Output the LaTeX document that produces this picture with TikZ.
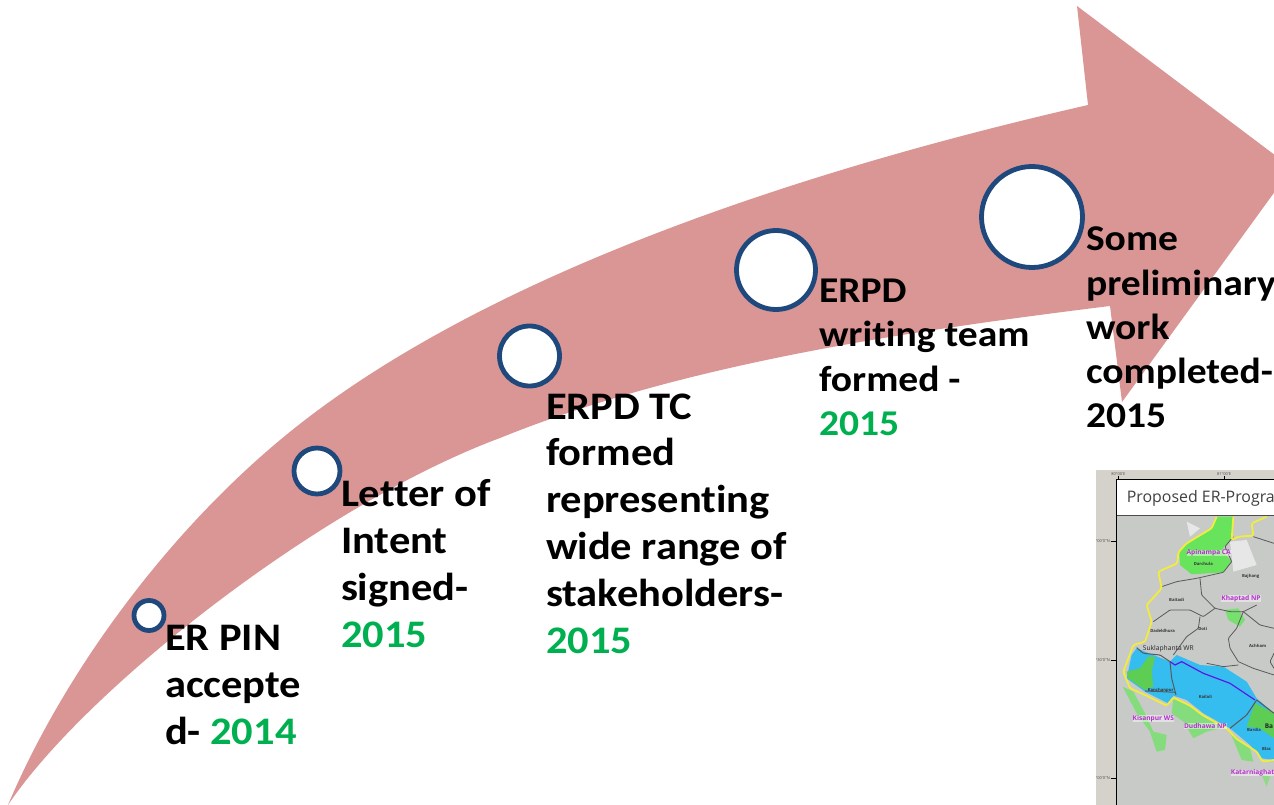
\documentclass[tikz,border=0pt]{standalone}
\usepackage{fontspec}
\setmainfont{Carlito}[FakeStretch=1.09,Ligatures=NoCommon]
\newfontfamily\mapfont{Open Sans}
\definecolor{arrowpink}{HTML}{D99694}
\definecolor{ringblue}{HTML}{1F497D}
\definecolor{yeargreen}{HTML}{00B050}
\definecolor{mapbg}{HTML}{C8CAC8}
\definecolor{mapframe}{HTML}{D5D2CB}
\definecolor{mapblue}{HTML}{36BDEF}
\definecolor{mapgreen}{HTML}{67E45C}
\definecolor{mapyellow}{HTML}{F2EC3C}
\definecolor{mappurple}{HTML}{B82FD0}
\tikzset{
  ring/.style={circle,draw=ringblue,line width=4.8pt,fill=white,inner sep=0pt,outer sep=0pt},
  tl/.style={anchor=north west,inner sep=0pt,outer sep=0pt,align=left,font=\fontsize{36.3pt}{44.2pt}\selectfont\bfseries,text=black},
  tlb/.style={anchor=north west,inner sep=0pt,outer sep=0pt,align=left,font=\fontsize{39pt}{46.9pt}\selectfont\bfseries,text=black},
  pa/.style={font=\mapfont\bfseries\fontsize{6.6pt}{8pt}\selectfont,text=mappurple,inner sep=0pt,fill=white,fill opacity=.45,text opacity=1},
  bl/.style={font=\mapfont\bfseries\fontsize{4.2pt}{6pt}\selectfont,text=black!80,inner sep=0pt},
  tk/.style={font=\mapfont\fontsize{4pt}{5pt}\selectfont,text=black!70,inner sep=0pt},
  dist/.style={draw=black!65,line width=.8pt,line join=round,rounded corners=1pt},
}
\begin{document}
\begin{tikzpicture}[x=1pt,y=-1pt]
\useasboundingbox (0,0) rectangle (1274,805);
\clip (0,0) rectangle (1274,805);
% arrow
\path[fill=arrowpink]
  (8,805) .. controls (65,670) and (175,520) .. (305,420)
  .. controls (480,285) and (760,180) .. (1088,105)
  -- (1077,6) -- (1292,168) -- (1122,402) -- (1110,306)
  .. controls (900,332) and (680,365) .. (500,438)
  .. controls (320,505) and (85,690) .. (8,805)
  -- cycle;
% map
\begin{scope}
\clip (1096,470) rectangle (1274,805);
\fill[mapframe] (1096,470) rectangle (1274,805);
\begin{scope}[shift={(1090,465)},x=0.3333pt,y=-0.3333pt]
  \fill[mapbg] (80,42) rectangle (560,1030);
  \fill[white,opacity=.55] (290,170) -- (330,190) -- (300,215) -- cycle
    (420,230) -- (470,225) -- (500,300) -- (430,320) -- cycle;
  % forest / green
  \fill[mapgreen] (380,155) -- (365,190) -- (290,235) -- (268,262) -- (270,300) -- (305,328) -- (400,322) -- (425,290) -- (395,255) -- (425,220) -- (430,155) -- cycle;
  \fill[mapgreen!80!mapbg] (405,435) -- (445,430) -- (465,465) -- (450,485) -- (415,465) -- cycle;
  \fill[mapgreen!70!mapbg] (98,665) -- (130,680) -- (165,745) -- (190,800) -- (230,810) -- (225,855) -- (200,860) -- (180,800) -- (140,745) -- cycle;
  \fill[mapgreen!70!mapbg] (250,700) -- (300,720) -- (340,750) -- (410,785) -- (350,800) -- (310,820) -- (280,770) -- (245,745) -- cycle;
  \fill[mapgreen!70!mapbg] (420,800) -- (480,850) -- (490,890) -- (455,885) -- cycle;
  \fill[mapgreen!60!mapbg] (515,930) -- (540,935) -- (530,965) -- cycle;
  % project area
  \fill[mapblue] (140,550) -- (240,590) -- (260,570) -- (330,600) -- (400,605) -- (470,650) -- (500,700) -- (552,745) -- (552,885) -- (515,880) -- (480,840) -- (420,790) -- (340,745) -- (290,705) -- (250,692) -- (235,715) -- (165,680) -- (110,640) -- (125,570) -- cycle;
  \fill[mapgreen!90!black] (195,575) -- (185,620) -- (190,665) -- (165,675) -- (115,640) -- (110,620) -- (150,610) -- (175,575) -- cycle;
  \fill[mapgreen!90!black] (495,715) -- (552,745) -- (552,820) -- (510,790) -- (470,785) -- cycle;
  % district lines
  \draw[dist] (215,365) -- (260,350) -- (320,340) -- (400,322) -- (425,290);
  \draw[dist] (430,215) -- (405,245) -- (425,290);
  \draw[dist] (490,215) -- (552,235);
  \draw[dist] (330,340) -- (335,390) -- (375,430) -- (420,440) -- (460,440) -- (500,420);
  \draw[dist] (375,430) -- (340,455) -- (300,435) -- (240,435) -- (190,470);
  \draw[dist] (330,455) -- (325,490) -- (290,515) -- (250,570);
  \draw[dist] (460,440) -- (440,490) -- (415,520) -- (420,550) -- (445,590);
  \draw[dist] (460,440) -- (510,480) -- (552,490);
  \draw[dist] (445,600) -- (400,605) -- (350,595);
  \draw[dist] (445,590) -- (490,610) -- (552,630);
  \draw[dist] (552,565) -- (540,590) -- (552,610);
  \draw[dist,line width=1pt] (240,590) -- (245,640) -- (258,690);
  \draw[dist,line width=1pt] (165,678) -- (258,682);
  \draw[dist,line width=1pt] (500,705) -- (470,750) -- (420,790);
  \draw[dist,line width=1pt] (500,705) -- (552,745);
  \draw[dist,line width=1pt] (140,548) -- (160,565) -- (210,570) -- (240,590);
  % programme boundary
  \draw[draw=mappurple!50!blue,line width=1.2pt,line join=round] (240,590) -- (255,600) -- (275,590) -- (340,625) -- (420,655) -- (495,705);
  \draw[draw=mapyellow,line width=1.8pt,line join=round,rounded corners=1.5pt] (530,155) -- (485,175) -- (490,212) -- (445,215) -- (425,225) -- (430,155)
    (380,155) -- (365,190) -- (290,235) -- (265,262) -- (262,295) -- (205,320) -- (215,370) -- (170,420) -- (185,470) -- (165,530) -- (130,540) -- (100,620) -- (120,670) -- (165,690) -- (230,722) -- (250,698) -- (300,722) -- (340,752) -- (410,790) -- (440,822) -- (500,860) -- (518,890) -- (552,885);
  % frame
  \fill[white] (80,42) rectangle (560,150);
  \draw[black,line width=.7pt] (80,42) -- (560,42) (80,1030) -- (80,42);
  \draw[black!70,line width=.7pt] (80,150) -- (560,150);
  \draw[black,line width=.5pt] (62,228) -- (80,228) (62,585) -- (80,585) (62,940) -- (80,940) (85,42) -- (85,34) (402,42) -- (402,34);
  % map texts
  \node[tk] (tka) at (85,28) {80°00'E};
  \node[tk] (tkb) at (402,28) {81°00'E};
  \node[tk,anchor=east] (tkc) at (60,228) {29°00'0"N};
  \node[tk,anchor=east] (tkd) at (60,585) {28°30'0"N};
  \node[tk,anchor=east] (tke) at (60,940) {28°00'0"N};
  \node[font=\mapfont\fontsize{15.9pt}{17pt}\selectfont,text=black!75,anchor=west,inner sep=0pt] (title) at (110,101) {Proposed ER-Progra};
  \node[pa] (apin) at (356,264) {Apinampa CA};
  \node[pa] (khap) at (453,400) {Khaptad NP};
  \node[font=\mapfont\fontsize{6.7pt}{8pt}\selectfont,text=black!85,inner sep=0pt,anchor=west] (sukl) at (158,551) {Suklaphanta WR};
  \node[pa] (kisa) at (190,761) {Kisanpur WS};
  \node[pa] (dudh) at (346,783) {Dudhawa NP};
  \node[pa,anchor=west] (kata) at (422,924) {Katarniaghat};
  \node[bl] (darc) at (340,298) {Darchula};
  \node[bl] (bajh) at (482,334) {Bajhang};
  \node[bl] (baid) at (260,405) {Baitadi};
  \node[bl] (dade) at (218,497) {Dadeldhura};
  \node[bl] (doti) at (338,491) {Doti};
  \node[bl] (achh) at (503,543) {Achham};
  \node[bl] (kanc) at (212,676) {Kanchanpur};
  \node[bl] (kail) at (346,695) {Kailali};
  \node[bl] (bard) at (492,796) {Bardia};
  \node[font=\mapfont\bfseries\fontsize{6.5pt}{7pt}\selectfont,text=black!85,inner sep=0pt,anchor=west] (bard2) at (524,784) {Ba};
  \node[bl,anchor=west] (blac) at (516,851) {Blac};
\end{scope}
\end{scope}
% rings
\node[ring,minimum size=30pt] (r1) at (149,615.5) {};
\node[ring,minimum size=46pt] (r2) at (317,471) {};
\node[ring,minimum size=60pt] (r3) at (529.5,356) {};
\node[ring,minimum size=79pt] (r4) at (776,270) {};
\node[ring,minimum size=101pt] (r5) at (1032,217) {};
% labels
\node[tlb] (t1) at (165,625.5) {ER PIN\\accepte\\d- {\color{yeargreen}2014}};
\node[tlb] (t2) at (341,479.5) {Letter of\\Intent\\signed-\\{\color{yeargreen}2015}};
\node[tlb] (t3) at (546,393.5) {ERPD TC\\formed\\representing\\wide range of\\stakeholders-\\{\color{yeargreen}2015}};
\node[tl] (t4) at (819,279.2) {ERPD\\writing team\\formed -\\{\color{yeargreen}2015}};
\node[tl] (t5) at (1086,227) {Some\\preliminary\\work\\completed-\\2015};
\end{tikzpicture}
\end{document}
